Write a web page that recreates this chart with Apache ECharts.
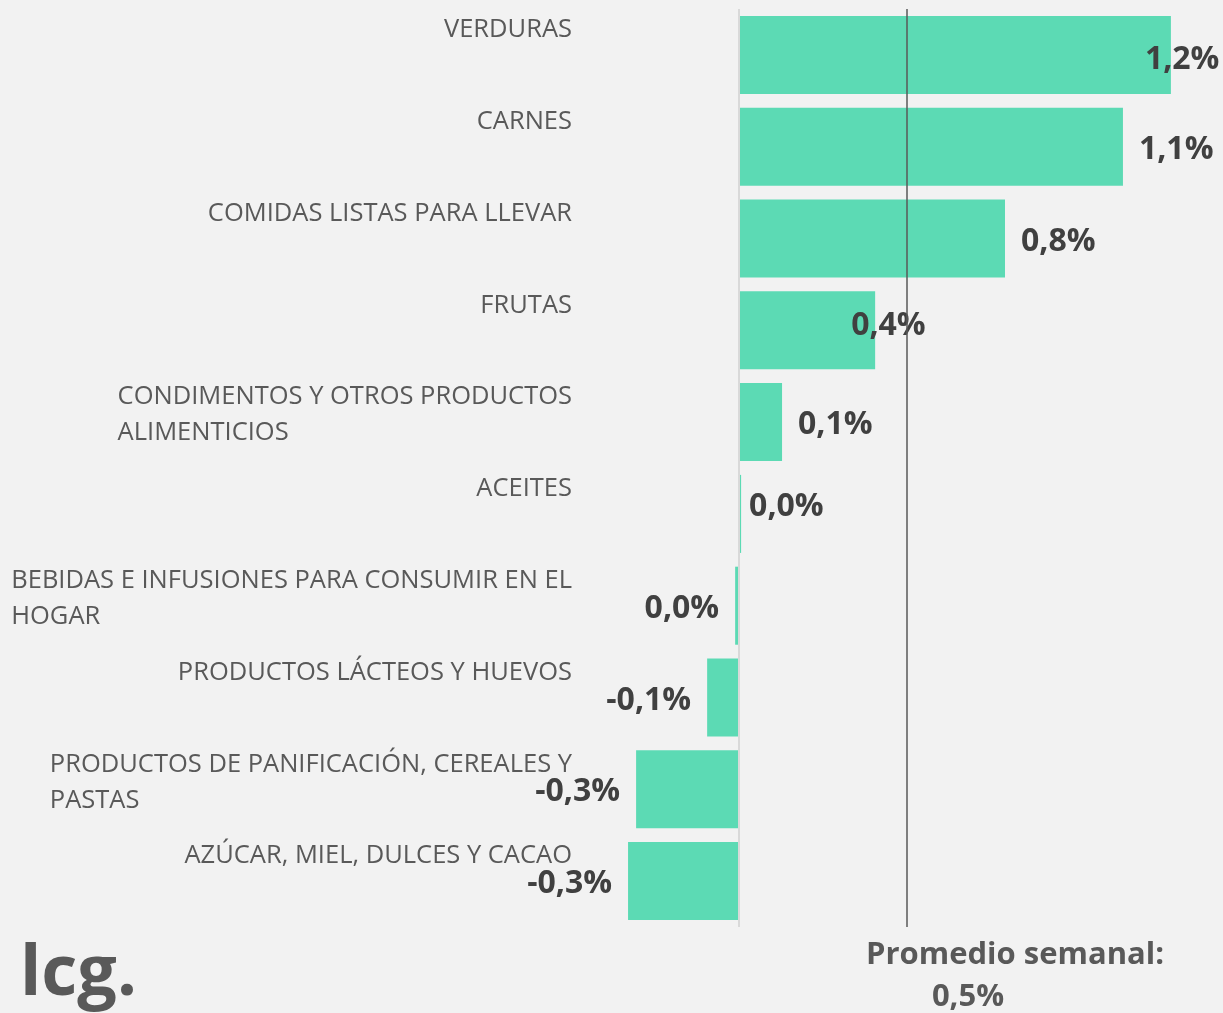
<!DOCTYPE html>
<html>
<head>
<meta charset="utf-8">
<script src="https://cdn.jsdelivr.net/npm/echarts@6/dist/echarts.min.js"></script>
<style>
  html, body { margin: 0; padding: 0; background: #f2f2f2; }
  #main { width: 1223px; height: 1013px; }
</style>
</head>
<body>
<div id="main"></div>
<script>
// categories, top to bottom
const categories = [
    'VERDURAS',
    'CARNES',
    'COMIDAS LISTAS PARA LLEVAR',
    'FRUTAS',
    'CONDIMENTOS Y OTROS PRODUCTOS\nALIMENTICIOS',
    'ACEITES',
    'BEBIDAS E INFUSIONES PARA CONSUMIR EN EL\nHOGAR',
    'PRODUCTOS LÁCTEOS Y HUEVOS',
    'PRODUCTOS DE PANIFICACIÓN, CEREALES Y\nPASTAS',
    'AZÚCAR, MIEL, DULCES Y CACAO'
];

// weekly variation, %
const values = [1.234, 1.097, 0.76, 0.389, 0.123, 0.006, -0.011, -0.091, -0.294, -0.317];

// weekly average, %
const promedio = 0.48;

// a few labels were moved by hand in the original
const labelOffsets = {
    0: [-42, 5],
    3: [-40, -4],
    5: [-8, -7]
};

function fmt(v) {
    if (Math.abs(v) < 0.05) return '0,0%';
    return v.toFixed(1).replace('.', ',') + '%';
}

const font = 'Open Sans';

let plot = echarts.init(document.querySelector('#main'));

const seriesData = values.map((v, i) => {
    return {
        value: v,
        label: {
            position: v >= 0 ? 'right' : 'left',
            offset: labelOffsets[i] || [0, 3]
        }
    };
});

const option = {
    backgroundColor: '#f2f2f2',
    animation: false,
    grid: { left: 599, right: 29, top: 9, bottom: 86 },
    xAxis: {
        type: 'value',
        min: -0.4,
        max: 1.3,
        show: false
    },
    yAxis: {
        type: 'category',
        inverse: true,
        data: categories,
        axisLine: { show: false, onZero: false },
        axisTick: { show: false },
        axisLabel: {
            margin: 27,
            showMinLabel: true,
            showMaxLabel: true,
            color: '#595959',
            fontFamily: font,
            fontSize: 25.5,
            lineHeight: 36,
            verticalAlign: 'middle',
            padding: [0, 0, 14, 0],
            // lines left-aligned inside a right-aligned block
            formatter: function (s) {
                let lines = s.split('\n');
                if (lines.length < 2) lines.push(' ');
                return lines.map(l => '{l|' + l + '}').join('\n');
            },
            rich: {
                l: {
                    align: 'left',
                    color: '#595959',
                    fontFamily: font,
                    fontSize: 25.5,
                    lineHeight: 36
                }
            }
        }
    },
    series: [{
        type: 'bar',
        data: seriesData,
        barWidth: '85%',
        itemStyle: { color: '#5cdab4' },
        label: {
            show: true,
            distance: 16,
            color: '#404040',
            fontFamily: font,
            fontWeight: 'bold',
            fontSize: 32,
            formatter: p => fmt(p.value)
        },
        markLine: {
            silent: true,
            symbol: 'none',
            label: { show: false },
            data: [
                { xAxis: 0, lineStyle: { color: '#d9d9d9', width: 2, type: 'solid' } },
                { xAxis: promedio, lineStyle: { color: '#595959', width: 1.5, type: 'solid' } }
            ]
        }
    }],
    graphic: [
        {
            type: 'text',
            left: 20,
            top: 940,
            style: {
                text: 'lcg.',
                fill: '#595959',
                font: 'bold 70px "Open Sans"'
            }
        },
        {
            type: 'text',
            x: 1015,
            y: 955,
            style: {
                text: 'Promedio semanal:',
                fill: '#595959',
                font: 'bold 31px "Open Sans"',
                align: 'center',
                verticalAlign: 'middle'
            }
        },
        {
            type: 'text',
            x: 968,
            y: 997,
            style: {
                text: fmt(promedio),
                fill: '#595959',
                font: 'bold 31px "Open Sans"',
                align: 'center',
                verticalAlign: 'middle'
            }
        }
    ]
};

plot.setOption(option);
</script>
</body>
</html>
